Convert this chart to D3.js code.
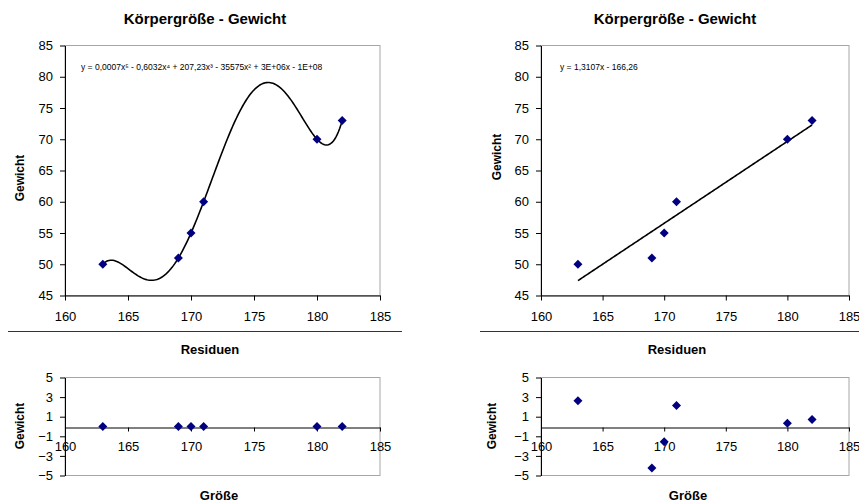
<!DOCTYPE html>
<html>
<head>
<meta charset="utf-8">
<script src="https://cdn.jsdelivr.net/npm/d3@7"></script>
<style>
body { margin: 0; background: #fff; }
text { font-family: "Liberation Sans", Arial, sans-serif; }
</style>
</head>
<body>
<div id="viz"></div>
<script>
(function() {

// Messwerte
var groesse = [163, 169, 170, 171, 180, 182];
var gewicht = [50, 51, 55, 60, 70, 73];

// Achsen
var xTicks = [160, 165, 170, 175, 180, 185];
var yTicks = [45, 50, 55, 60, 65, 70, 75, 80, 85];
var residTicks = [5, 3, 1, -1, -3, -5];

var titel = "Körpergröße - Gewicht";
var polyLabel = "y = 0,0007x⁵ - 0,6032x⁴ + 207,23x³ - 35575x² + 3E+06x - 1E+08";
var linLabel = "y = 1,3107x - 166,26";

// polynom 5. grades durch 6 punkte = lagrange
function polyFit(x) {
    var s = 0;
    for (var i = 0; i < groesse.length; i++) {
        var p = gewicht[i];
        for (var j = 0; j < groesse.length; j++) {
            if (j != i) p *= (x - groesse[j]) / (groesse[i] - groesse[j]);
        }
        s += p;
    }
    return s;
}

var mx = d3.mean(groesse), my = d3.mean(gewicht);
var slope = d3.sum(groesse, function(x, i) { return (x - mx) * (gewicht[i] - my); }) /
            d3.sum(groesse, function(x) { return (x - mx) * (x - mx); });
var icpt = my - slope * mx;
function linFit(x) { return slope * x + icpt; }

var svg = d3.select("#viz").append("svg")
    .attr("width", 859)
    .attr("height", 502);

function diamond(cx, cy) {
    var s = 4.5;
    return "M" + cx + "," + (cy - s) + "L" + (cx + s) + "," + cy +
           "L" + cx + "," + (cy + s) + "L" + (cx - s) + "," + cy + "Z";
}

function styleAxis(g) {
    g.selectAll("path.domain").attr("stroke", "#000");
    g.selectAll(".tick line").attr("stroke", "#000");
    g.selectAll(".tick text").attr("fill", "#000").style("font-size", "13px")
        .style("font-family", "\"Liberation Sans\", Arial, sans-serif");
}

function panel(p) {
    var x = d3.scaleLinear().domain([160, 185]).range([p.x0, p.x1]);
    var y = d3.scaleLinear().domain([45, 85]).range([295.5, 45.5]);

    svg.append("text")
        .attr("x", p.titleX).attr("y", 24)
        .attr("text-anchor", "middle")
        .style("font-size", "15px").style("font-weight", "bold")
        .text(titel);

    // plot area rahmen
    svg.append("rect")
        .attr("x", p.x0).attr("y", 45.5)
        .attr("width", p.x1 - p.x0).attr("height", 250)
        .attr("fill", "none").attr("stroke", "#a6a6a6");

    svg.append("g")
        .attr("transform", "translate(" + p.x0 + ",0)")
        .call(d3.axisLeft(y).tickValues(yTicks).tickSize(5).tickSizeOuter(0).tickPadding(7))
        .call(styleAxis);
    svg.append("g")
        .attr("transform", "translate(0,295.5)")
        .call(d3.axisBottom(x).tickValues(xTicks).tickSize(5).tickSizeOuter(0).tickPadding(11))
        .call(styleAxis);

    svg.append("text")
        .attr("transform", "translate(" + p.gwX + "," + p.gwY + ") rotate(-90)")
        .attr("text-anchor", "middle")
        .style("font-size", "12px").style("font-weight", "bold")
        .text("Gewicht");

    // trendlinie
    var xs = d3.range(163, 182.001, 0.1);
    svg.append("path")
        .datum(xs)
        .attr("fill", "none").attr("stroke", "#000").attr("stroke-width", 1.6)
        .attr("d", d3.line().x(function(d) { return x(d); }).y(function(d) { return y(p.fit(d)); }));

    svg.append("g").selectAll("path")
        .data(groesse)
        .enter().append("path")
        .attr("fill", "#000080")
        .attr("d", function(d, i) { return diamond(x(d), y(gewicht[i])); });

    svg.append("text")
        .attr("x", p.labelX).attr("y", 70)
        .style("font-size", "8.5px").attr("fill", "#000")
        .text(p.label);

    // trennlinie + residuen
    svg.append("line")
        .attr("x1", p.sep0).attr("x2", p.sep1)
        .attr("y1", 331.5).attr("y2", 331.5)
        .attr("stroke", "#333");
    svg.append("text")
        .attr("x", p.resTitleX).attr("y", 354)
        .attr("text-anchor", "middle")
        .style("font-size", "13px").style("font-weight", "bold")
        .text("Residuen");

    var r = d3.scaleLinear().domain([-5, 5]).range([475.5, 377.5]);
    svg.append("rect")
        .attr("x", p.x0).attr("y", 377.5)
        .attr("width", p.x1 - p.x0).attr("height", 98)
        .attr("fill", "none").attr("stroke", "#a6a6a6");
    svg.append("g")
        .attr("transform", "translate(" + p.x0 + ",0)")
        .call(d3.axisLeft(r).tickValues(residTicks).tickSize(5).tickSizeOuter(0).tickPadding(7))
        .call(styleAxis);
    svg.append("g")
        .attr("transform", "translate(0," + Math.round(r(0)) + ".5)")
        .call(d3.axisBottom(x).tickValues(xTicks).tickSize(4).tickSizeOuter(0).tickPadding(10))
        .call(styleAxis);

    svg.append("text")
        .attr("transform", "translate(" + p.rgwX + ",426) rotate(-90)")
        .attr("text-anchor", "middle")
        .style("font-size", "12px").style("font-weight", "bold")
        .text("Gewicht");
    svg.append("text")
        .attr("x", p.grX).attr("y", 500)
        .attr("text-anchor", "middle")
        .style("font-size", "13px").style("font-weight", "bold")
        .text("Größe");

    svg.append("g").selectAll("path")
        .data(groesse)
        .enter().append("path")
        .attr("fill", "#000080")
        .attr("d", function(d, i) { return diamond(x(d), r(gewicht[i] - p.fit(d))); });
}

panel({ x0: 65, x1: 380, fit: polyFit, label: polyLabel, labelX: 81,
        titleX: 205, gwX: 24, gwY: 178, sep0: 8, sep1: 402, resTitleX: 210, rgwX: 24, grX: 219 });
panel({ x0: 541, x1: 849, fit: linFit, label: linLabel, labelX: 560,
        titleX: 675, gwX: 501, gwY: 157, sep0: 480, sep1: 859, resTitleX: 677, rgwX: 496, grX: 688 });

})();
</script>
</body>
</html>
